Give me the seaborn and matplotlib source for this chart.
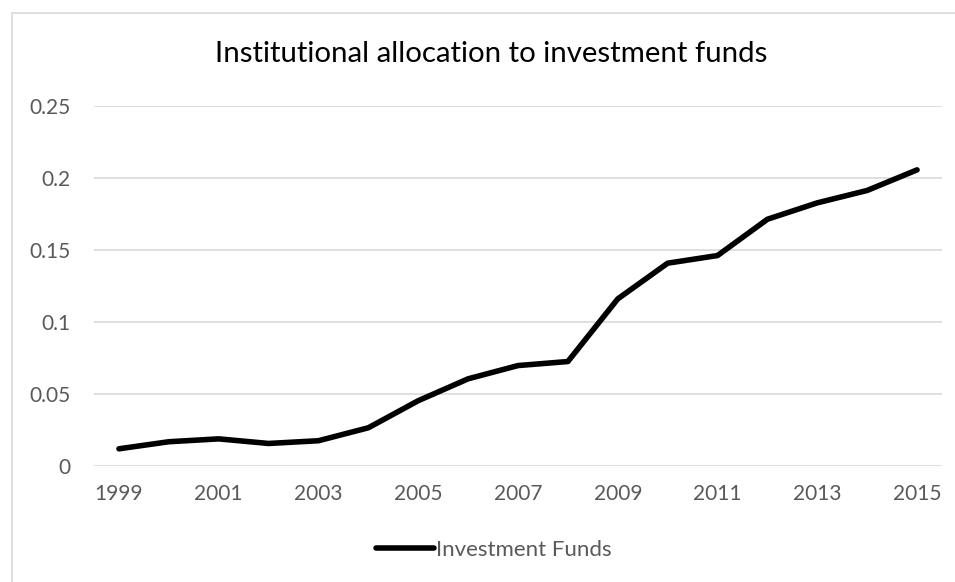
import matplotlib
matplotlib.use("Agg")
import matplotlib.pyplot as plt
import seaborn as sns
import pandas as pd
from matplotlib.patches import Rectangle
from matplotlib.lines import Line2D

years = list(range(1999, 2016))
values = [0.0116, 0.0165, 0.0185, 0.0153, 0.0172, 0.0262, 0.045, 0.0602,
          0.0694, 0.0722, 0.1157, 0.1405, 0.1458, 0.171, 0.1824, 0.191, 0.2053]
series_name = "Investment Funds"
title = "Institutional allocation to investment funds"
xtick_years = [1999, 2001, 2003, 2005, 2007, 2009, 2011, 2013, 2015]
ytick_vals = [0, 0.05, 0.1, 0.15, 0.2, 0.25]
ytick_labels = ["0", "0.05", "0.1", "0.15", "0.2", "0.25"]

df = pd.DataFrame({"Year": years, "Value": values, "Series": series_name})

sns.set_theme(style="white")
plt.rcParams["font.family"] = ["Lato", "DejaVu Sans"]

fig = plt.figure(figsize=(9.55, 5.82), dpi=100)
ax = fig.add_axes([94 / 955, 1 - 465.5 / 582, 848 / 955, 360 / 582])

# outer chart border
fig.patches.append(Rectangle((11.5 / 955, -0.01), 1.0, 1 - 12.7 / 582 + 0.01,
                             transform=fig.transFigure, fill=False,
                             edgecolor="#D9D9D9", linewidth=1.2, zorder=0))

sns.lineplot(data=df, x="Year", y="Value", hue="Series", palette=["black"],
             linewidth=4.0, ax=ax, legend=False, solid_capstyle="round")

ax.set_xlim(1998.5, 2015.5)
ax.set_ylim(0, 0.25)
ax.set_yticks(ytick_vals)
ax.set_yticklabels(ytick_labels)
ax.set_xticks(xtick_years)
ax.set_xticklabels([str(y) for y in xtick_years])
ax.yaxis.grid(True, color="#D9D9D9", linewidth=1.2)
ax.xaxis.grid(False)
ax.set_axisbelow(True)
for s in ax.spines.values():
    s.set_visible(False)
ax.tick_params(axis="both", length=0, labelsize=15, labelcolor="#595959")
ax.tick_params(axis="y", pad=17)
ax.tick_params(axis="x", pad=13)
ax.set_xlabel("")
ax.set_ylabel("")

fig.text(491 / 955, 1 - 54 / 582, title, ha="center", va="center",
         fontsize=21.2, color="black")

handle = Line2D([], [], color="black", linewidth=4.0, solid_capstyle="round")
fig.legend([handle], [series_name], loc="center", bbox_to_anchor=(494 / 955, 1 - 550 / 582),
           frameon=False, fontsize=16, handlelength=2.6, handletextpad=0.1,
           labelcolor="#595959")

fig.savefig("out.png", dpi=100)
